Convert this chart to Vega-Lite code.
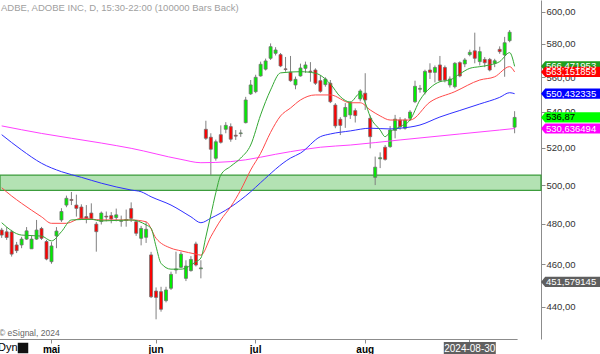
{
  "$schema": "https://vega.github.io/schema/vega-lite/v6.json",
  "width": 541,
  "height": 339,
  "autosize": {"type": "none"},
  "padding": {"left": 0, "top": 0, "right": 59, "bottom": 15},
  "background": "white",
  "config": {"view": {"stroke": null}, "font": "Liberation Sans"},
  "title": {"text": "ADBE, ADOBE INC, D, 15:30-22:00 (100000 Bars Back)", "anchor": "start", "frame": "group", "offset": -12, "fontSize": 9.5, "fontWeight": "normal", "color": "#a0a0a0", "font": "Liberation Sans", "dx": 1},
  "datasets": {
    "candles": [
      {"d":"2024-04-17","o":476.9,"h":478.0,"l":473.0,"c":474.4},
      {"d":"2024-04-18","o":476.0,"h":478.4,"l":472.0,"c":473.2},
      {"d":"2024-04-19","o":476.0,"h":477.0,"l":463.8,"c":465.0},
      {"d":"2024-04-22","o":469.5,"h":471.0,"l":465.5,"c":466.7},
      {"d":"2024-04-23","o":469.5,"h":473.5,"l":467.9,"c":472.4},
      {"d":"2024-04-24","o":472.4,"h":478.4,"l":472.0,"c":476.5},
      {"d":"2024-04-25","o":467.6,"h":474.4,"l":467.6,"c":472.4},
      {"d":"2024-04-26","o":472.4,"h":482.0,"l":472.0,"c":476.9},
      {"d":"2024-04-29","o":477.7,"h":478.5,"l":472.0,"c":472.8},
      {"d":"2024-04-30","o":471.2,"h":472.0,"l":462.0,"c":462.6},
      {"d":"2024-05-01","o":461.3,"h":470.9,"l":460.3,"c":469.0},
      {"d":"2024-05-02","o":474.0,"h":478.4,"l":467.9,"c":476.4},
      {"d":"2024-05-03","o":482.0,"h":488.0,"l":481.0,"c":486.3},
      {"d":"2024-05-06","o":489.6,"h":494.5,"l":488.5,"c":493.1},
      {"d":"2024-05-07","o":492.5,"h":496.4,"l":489.6,"c":492.0},
      {"d":"2024-05-08","o":489.6,"h":495.0,"l":483.7,"c":487.9},
      {"d":"2024-05-09","o":488.6,"h":490.0,"l":482.0,"c":482.7},
      {"d":"2024-05-10","o":483.7,"h":489.6,"l":480.3,"c":482.9},
      {"d":"2024-05-13","o":485.5,"h":490.5,"l":482.0,"c":482.7},
      {"d":"2024-05-14","o":479.9,"h":481.0,"l":466.2,"c":476.1},
      {"d":"2024-05-15","o":481.2,"h":486.3,"l":479.7,"c":485.5},
      {"d":"2024-05-16","o":483.9,"h":486.3,"l":481.3,"c":483.5},
      {"d":"2024-05-17","o":484.2,"h":486.0,"l":480.3,"c":482.5},
      {"d":"2024-05-20","o":483.2,"h":487.8,"l":481.3,"c":484.6},
      {"d":"2024-05-21","o":481.3,"h":484.2,"l":478.6,"c":481.6},
      {"d":"2024-05-22","o":482.2,"h":487.3,"l":478.6,"c":481.8},
      {"d":"2024-05-23","o":487.8,"h":491.0,"l":481.0,"c":482.8},
      {"d":"2024-05-24","o":481.1,"h":482.0,"l":474.0,"c":475.3},
      {"d":"2024-05-28","o":472.8,"h":479.0,"l":469.3,"c":477.7},
      {"d":"2024-05-29","o":473.3,"h":481.0,"l":470.5,"c":477.3},
      {"d":"2024-05-30","o":464.6,"h":466.1,"l":444.0,"c":444.6},
      {"d":"2024-05-31","o":447.3,"h":449.0,"l":434.2,"c":444.3},
      {"d":"2024-06-03","o":447.0,"h":449.3,"l":437.7,"c":438.8},
      {"d":"2024-06-04","o":442.8,"h":449.3,"l":442.0,"c":447.8},
      {"d":"2024-06-05","o":448.6,"h":456.5,"l":447.8,"c":455.2},
      {"d":"2024-06-06","o":457.3,"h":466.2,"l":455.5,"c":457.8},
      {"d":"2024-06-07","o":458.6,"h":466.2,"l":458.2,"c":465.0},
      {"d":"2024-06-10","o":453.3,"h":462.0,"l":452.0,"c":459.2},
      {"d":"2024-06-11","o":457.0,"h":464.0,"l":456.5,"c":462.4},
      {"d":"2024-06-12","o":470.0,"h":471.1,"l":459.0,"c":459.7},
      {"d":"2024-06-13","o":457.9,"h":462.0,"l":453.3,"c":458.3},
      {"d":"2024-06-14","o":530.2,"h":535.0,"l":524.3,"c":525.2},
      {"d":"2024-06-17","o":525.8,"h":528.0,"l":505.3,"c":519.2},
      {"d":"2024-06-18","o":514.3,"h":524.5,"l":513.0,"c":523.3},
      {"d":"2024-06-20","o":527.2,"h":532.4,"l":522.3,"c":523.0},
      {"d":"2024-06-21","o":530.2,"h":534.2,"l":528.0,"c":532.4},
      {"d":"2024-06-24","o":531.7,"h":533.5,"l":523.3,"c":524.7},
      {"d":"2024-06-25","o":526.9,"h":529.8,"l":524.3,"c":526.4},
      {"d":"2024-06-26","o":527.8,"h":530.0,"l":526.0,"c":528.2},
      {"d":"2024-06-27","o":533.9,"h":548.6,"l":533.5,"c":546.8},
      {"d":"2024-06-28","o":550.3,"h":558.4,"l":549.7,"c":555.5},
      {"d":"2024-07-01","o":551.6,"h":561.5,"l":550.7,"c":560.0},
      {"d":"2024-07-02","o":560.8,"h":569.3,"l":560.4,"c":567.7},
      {"d":"2024-07-03","o":564.8,"h":571.1,"l":564.0,"c":569.7},
      {"d":"2024-07-05","o":571.3,"h":580.3,"l":570.3,"c":578.3},
      {"d":"2024-07-08","o":574.3,"h":578.0,"l":573.0,"c":576.3},
      {"d":"2024-07-09","o":573.5,"h":574.5,"l":566.0,"c":566.7},
      {"d":"2024-07-10","o":565.0,"h":572.1,"l":563.3,"c":564.6},
      {"d":"2024-07-11","o":563.0,"h":572.7,"l":557.4,"c":558.0},
      {"d":"2024-07-12","o":555.5,"h":560.4,"l":553.0,"c":558.8},
      {"d":"2024-07-15","o":560.8,"h":568.1,"l":560.4,"c":565.5},
      {"d":"2024-07-16","o":565.3,"h":569.3,"l":562.6,"c":567.3},
      {"d":"2024-07-17","o":563.6,"h":569.0,"l":557.4,"c":563.2},
      {"d":"2024-07-18","o":564.3,"h":565.3,"l":555.5,"c":556.5},
      {"d":"2024-07-19","o":558.0,"h":561.0,"l":551.0,"c":551.8},
      {"d":"2024-07-22","o":555.7,"h":560.0,"l":554.5,"c":559.0},
      {"d":"2024-07-23","o":556.5,"h":558.4,"l":545.0,"c":545.8},
      {"d":"2024-07-24","o":543.9,"h":545.0,"l":530.8,"c":532.1},
      {"d":"2024-07-25","o":535.8,"h":537.0,"l":527.0,"c":532.4},
      {"d":"2024-07-26","o":537.3,"h":545.0,"l":531.0,"c":542.5},
      {"d":"2024-07-29","o":538.3,"h":546.0,"l":536.0,"c":545.2},
      {"d":"2024-07-30","o":540.7,"h":542.0,"l":534.0,"c":537.9},
      {"d":"2024-07-31","o":547.4,"h":553.0,"l":546.0,"c":552.0},
      {"d":"2024-08-01","o":550.7,"h":562.4,"l":541.1,"c":546.8},
      {"d":"2024-08-02","o":536.4,"h":538.0,"l":519.7,"c":526.1},
      {"d":"2024-08-05","o":504.1,"h":515.2,"l":500.0,"c":509.5},
      {"d":"2024-08-06","o":514.0,"h":517.5,"l":509.0,"c":514.6},
      {"d":"2024-08-07","o":520.3,"h":521.5,"l":513.0,"c":513.7},
      {"d":"2024-08-08","o":520.6,"h":532.0,"l":520.0,"c":529.8},
      {"d":"2024-08-09","o":529.6,"h":538.3,"l":525.2,"c":535.9},
      {"d":"2024-08-12","o":535.4,"h":537.0,"l":530.0,"c":531.6},
      {"d":"2024-08-13","o":530.8,"h":536.5,"l":530.0,"c":535.4},
      {"d":"2024-08-14","o":536.4,"h":541.0,"l":535.0,"c":539.9},
      {"d":"2024-08-15","o":545.8,"h":558.0,"l":545.0,"c":554.7},
      {"d":"2024-08-16","o":553.0,"h":555.5,"l":551.0,"c":553.5},
      {"d":"2024-08-19","o":551.4,"h":564.5,"l":550.0,"c":563.5},
      {"d":"2024-08-20","o":564.3,"h":568.3,"l":559.0,"c":562.9},
      {"d":"2024-08-21","o":562.9,"h":567.0,"l":557.0,"c":565.8},
      {"d":"2024-08-22","o":567.3,"h":572.7,"l":557.4,"c":558.1},
      {"d":"2024-08-23","o":565.8,"h":567.0,"l":557.0,"c":558.4},
      {"d":"2024-08-26","o":555.5,"h":560.5,"l":554.0,"c":559.0},
      {"d":"2024-08-27","o":554.5,"h":569.0,"l":553.5,"c":568.3},
      {"d":"2024-08-28","o":568.7,"h":569.5,"l":560.0,"c":560.8},
      {"d":"2024-08-29","o":567.9,"h":571.5,"l":566.0,"c":570.3},
      {"d":"2024-08-30","o":573.5,"h":576.5,"l":572.5,"c":574.9},
      {"d":"2024-09-03","o":575.8,"h":586.9,"l":568.3,"c":571.3},
      {"d":"2024-09-04","o":569.3,"h":578.3,"l":567.0,"c":575.3},
      {"d":"2024-09-05","o":570.6,"h":572.0,"l":566.0,"c":568.6},
      {"d":"2024-09-06","o":570.6,"h":571.5,"l":563.5,"c":564.3},
      {"d":"2024-09-09","o":568.3,"h":571.0,"l":566.0,"c":569.8},
      {"d":"2024-09-10","o":576.7,"h":578.5,"l":574.0,"c":575.3},
      {"d":"2024-09-11","o":573.3,"h":584.3,"l":560.3,"c":580.7},
      {"d":"2024-09-12","o":582.0,"h":588.5,"l":581.0,"c":587.2},
      {"d":"2024-09-13","o":531.4,"h":540.4,"l":528.0,"c":536.87}
    ],
    "ma": [
      {"d":"2024-04-17","s":"m","v":532.1},{"d":"2024-04-29","s":"m","v":527.9},{"d":"2024-05-15","s":"m","v":522.6},{"d":"2024-05-23","s":"m","v":519.7},{"d":"2024-06-07","s":"m","v":513.7},{"d":"2024-06-13","s":"m","v":511.9},{"d":"2024-06-24","s":"m","v":512.5},{"d":"2024-07-11","s":"m","v":517.9},{"d":"2024-07-19","s":"m","v":520.3},{"d":"2024-07-29","s":"m","v":521.5},{"d":"2024-08-12","s":"m","v":524.3},{"d":"2024-08-28","s":"m","v":527.6},{"d":"2024-09-10","s":"m","v":529.8},{"d":"2024-09-13","s":"m","v":530.64},
      {"d":"2024-04-17","s":"b","v":527.2},{"d":"2024-04-23","s":"b","v":518.8},{"d":"2024-04-29","s":"b","v":511.6},{"d":"2024-05-03","s":"b","v":507.1},{"d":"2024-05-09","s":"b","v":504.1},{"d":"2024-05-15","s":"b","v":501.0},{"d":"2024-05-23","s":"b","v":497.4},{"d":"2024-05-28","s":"b","v":496.5},{"d":"2024-05-30","s":"b","v":493.9},{"d":"2024-06-05","s":"b","v":489.6},{"d":"2024-06-11","s":"b","v":483.6},{"d":"2024-06-13","s":"b","v":480.6},{"d":"2024-06-17","s":"b","v":482.9},{"d":"2024-06-24","s":"b","v":488.6},{"d":"2024-06-26","s":"b","v":492.3},{"d":"2024-06-28","s":"b","v":496.5},{"d":"2024-07-02","s":"b","v":501.3},{"d":"2024-07-11","s":"b","v":514.4},{"d":"2024-07-15","s":"b","v":517.1},{"d":"2024-07-19","s":"b","v":526.1},{"d":"2024-07-23","s":"b","v":527.6},{"d":"2024-07-29","s":"b","v":529.3},{"d":"2024-08-02","s":"b","v":530.8},{"d":"2024-08-08","s":"b","v":530.4},{"d":"2024-08-12","s":"b","v":530.8},{"d":"2024-08-16","s":"b","v":532.6},{"d":"2024-08-22","s":"b","v":537.1},{"d":"2024-08-28","s":"b","v":540.8},{"d":"2024-09-04","s":"b","v":544.5},{"d":"2024-09-10","s":"b","v":548.3},{"d":"2024-09-12","s":"b","v":551.0},{"d":"2024-09-13","s":"b","v":550.43},
      {"d":"2024-04-17","s":"r","v":498.6},{"d":"2024-04-19","s":"r","v":494.3},{"d":"2024-04-23","s":"r","v":490.5},{"d":"2024-04-29","s":"r","v":483.6},{"d":"2024-05-01","s":"r","v":480.3},{"d":"2024-05-06","s":"r","v":480.3},{"d":"2024-05-09","s":"r","v":482.9},{"d":"2024-05-15","s":"r","v":482.0},{"d":"2024-05-23","s":"r","v":482.0},{"d":"2024-05-29","s":"r","v":481.1},{"d":"2024-05-31","s":"r","v":472.8},{"d":"2024-06-05","s":"r","v":467.9},{"d":"2024-06-07","s":"r","v":466.6},{"d":"2024-06-12","s":"r","v":465.0},{"d":"2024-06-13","s":"r","v":464.5},{"d":"2024-06-17","s":"r","v":473.6},{"d":"2024-06-20","s":"r","v":482.0},{"d":"2024-06-24","s":"r","v":488.8},{"d":"2024-06-26","s":"r","v":497.4},{"d":"2024-06-28","s":"r","v":508.0},{"d":"2024-07-02","s":"r","v":517.0},{"d":"2024-07-05","s":"r","v":528.5},{"d":"2024-07-09","s":"r","v":537.7},{"d":"2024-07-11","s":"r","v":542.2},{"d":"2024-07-15","s":"r","v":546.8},{"d":"2024-07-18","s":"r","v":549.7},{"d":"2024-07-23","s":"r","v":549.7},{"d":"2024-07-29","s":"r","v":545.2},{"d":"2024-07-31","s":"r","v":545.2},{"d":"2024-08-02","s":"r","v":541.1},{"d":"2024-08-06","s":"r","v":537.7},{"d":"2024-08-08","s":"r","v":535.4},{"d":"2024-08-14","s":"r","v":535.4},{"d":"2024-08-20","s":"r","v":545.6},{"d":"2024-08-27","s":"r","v":551.6},{"d":"2024-09-04","s":"r","v":558.4},{"d":"2024-09-09","s":"r","v":560.3},{"d":"2024-09-12","s":"r","v":566.3},{"d":"2024-09-13","s":"r","v":563.15},
      {"d":"2024-04-17","s":"g","v":480.6},{"d":"2024-04-23","s":"g","v":474.4},{"d":"2024-04-29","s":"g","v":473.9},{"d":"2024-05-01","s":"g","v":471.5},{"d":"2024-05-03","s":"g","v":476.1},{"d":"2024-05-07","s":"g","v":482.0},{"d":"2024-05-13","s":"g","v":482.3},{"d":"2024-05-15","s":"g","v":481.5},{"d":"2024-05-23","s":"g","v":482.0},{"d":"2024-05-29","s":"g","v":479.5},{"d":"2024-05-30","s":"g","v":477.8},{"d":"2024-05-31","s":"g","v":468.7},{"d":"2024-06-03","s":"g","v":460.5},{"d":"2024-06-05","s":"g","v":457.7},{"d":"2024-06-07","s":"g","v":457.7},{"d":"2024-06-12","s":"g","v":461.3},{"d":"2024-06-13","s":"g","v":463.1},{"d":"2024-06-14","s":"g","v":473.5},{"d":"2024-06-17","s":"g","v":484.5},{"d":"2024-06-18","s":"g","v":496.0},{"d":"2024-06-20","s":"g","v":505.3},{"d":"2024-06-24","s":"g","v":510.0},{"d":"2024-06-26","s":"g","v":514.4},{"d":"2024-06-28","s":"g","v":521.5},{"d":"2024-07-02","s":"g","v":538.3},{"d":"2024-07-05","s":"g","v":552.6},{"d":"2024-07-09","s":"g","v":562.6},{"d":"2024-07-15","s":"g","v":563.3},{"d":"2024-07-18","s":"g","v":562.4},{"d":"2024-07-23","s":"g","v":556.1},{"d":"2024-07-25","s":"g","v":548.7},{"d":"2024-07-29","s":"g","v":545.6},{"d":"2024-07-31","s":"g","v":550.7},{"d":"2024-08-01","s":"g","v":545.2},{"d":"2024-08-02","s":"g","v":537.3},{"d":"2024-08-06","s":"g","v":529.8},{"d":"2024-08-07","s":"g","v":526.1},{"d":"2024-08-08","s":"g","v":528.8},{"d":"2024-08-12","s":"g","v":531.7},{"d":"2024-08-14","s":"g","v":535.4},{"d":"2024-08-16","s":"g","v":546.8},{"d":"2024-08-20","s":"g","v":553.7},{"d":"2024-08-22","s":"g","v":557.4},{"d":"2024-08-26","s":"g","v":558.4},{"d":"2024-08-28","s":"g","v":562.0},{"d":"2024-08-30","s":"g","v":565.3},{"d":"2024-09-04","s":"g","v":566.3},{"d":"2024-09-06","s":"g","v":567.3},{"d":"2024-09-10","s":"g","v":569.3},{"d":"2024-09-12","s":"g","v":574.7},{"d":"2024-09-13","s":"g","v":566.47}
    ],
    "tags": [
      {"k":"g","v":566.471953,"lab":"566,471953"},
      {"k":"r","v":563.151859,"lab":"563,151859"},
      {"k":"b","v":550.432335,"lab":"550,432335"},
      {"k":"p","v":536.87,"lab":"536,87"},
      {"k":"m","v":530.636494,"lab":"530,636494"},
      {"k":"x","v":451.579145,"lab":"451,579145"}
    ]
  },
  "layer": [
    {
      "data": {"values": [{"lo": 497.2, "hi": 505.3}]},
      "mark": {"type": "rect", "fill": "#b3e2b3", "stroke": "#3c9c3c", "strokeWidth": 1.3},
      "encoding": {
        "x": {"value": 0},
        "x2": {"value": "width"},
        "y": {"field": "lo", "type": "quantitative",
              "scale": {"type": "log", "domain": [425.3, 607.4], "nice": false, "zero": false},
              "axis": {"orient": "right", "values": [440, 460, 480, 500, 520, 540, 560, 580, 600],
                       "labelExpr": "replace(format(datum.value, '.2f'), '.', ',')",
                       "title": null, "grid": false, "domainColor": "#8c8c8c", "tickColor": "#8c8c8c",
                       "tickSize": 4, "labelPadding": 1, "labelFontSize": 9.5, "labelColor": "#333333",
                       "labelFont": "Liberation Sans", "zindex": 0}},
        "y2": {"field": "hi"}
      }
    },
    {
      "data": {"name": "candles"},
      "mark": {"type": "rule", "color": "#808080", "strokeWidth": 1},
      "encoding": {
        "x": {"field": "d", "type": "ordinal",
              "scale": {"type": "band", "range": [-0.8, 517.1], "paddingInner": 0, "paddingOuter": 0},
              "axis": {"orient": "bottom", "values": ["2024-05-01", "2024-05-31", "2024-07-01", "2024-08-01", "2024-08-30"],
                       "labelExpr": "datum.value === '2024-05-01' ? 'mai' : datum.value === '2024-05-31' ? 'jun' : datum.value === '2024-07-01' ? 'jul' : datum.value === '2024-08-01' ? 'aug' : ''",
                       "title": null, "grid": false, "labelAngle": 0, "domainColor": "#8c8c8c", "tickColor": "#8c8c8c",
                       "tickSize": 4, "labelPadding": 1, "labelFontSize": 10, "labelFontWeight": "bold",
                       "labelColor": "#000000", "labelFont": "Liberation Sans", "labelOverlap": false, "zindex": 0}},
        "y": {"field": "l", "type": "quantitative"},
        "y2": {"field": "h"}
      }
    },
    {
      "data": {"name": "candles"},
      "mark": {"type": "bar", "size": 3, "stroke": "#707070", "strokeWidth": 0.8},
      "encoding": {
        "x": {"field": "d", "type": "ordinal"},
        "y": {"field": "o", "type": "quantitative"},
        "y2": {"field": "c"},
        "color": {"condition": {"test": "datum.c >= datum.o", "value": "#00ee00"}, "value": "#ff0000"}
      }
    },
    {
      "data": {"name": "ma"},
      "mark": {"type": "line", "strokeWidth": 1, "interpolate": "monotone"},
      "encoding": {
        "x": {"field": "d", "type": "ordinal"},
        "y": {"field": "v", "type": "quantitative"},
        "stroke": {"field": "s", "type": "nominal", "legend": null,
                   "scale": {"domain": ["m", "b", "r", "g"], "range": ["#ff40ff", "#3030ff", "#ff4a4a", "#33a833"]}}
      }
    },
    {
      "data": {"name": "tags"},
      "mark": {"type": "point", "filled": true, "opacity": 1, "size": 14400, "strokeWidth": 0,
               "shape": "M0,0 L0.07,-0.085 L1,-0.085 L1,0.085 L0.07,0.085 Z"},
      "encoding": {
        "x": {"value": "width"},
        "y": {"field": "v", "type": "quantitative"},
        "fill": {"field": "k", "type": "nominal", "legend": null,
                 "scale": {"domain": ["g", "r", "b", "p", "m", "x"], "range": ["#1f9f1f", "#ff0000", "#0000ff", "#00ff00", "#ff00ff", "#5f5f5f"]}}
      }
    },
    {
      "data": {"name": "tags"},
      "mark": {"type": "text", "align": "left", "baseline": "middle", "dx": 5, "fontSize": 9.5, "font": "Liberation Sans"},
      "encoding": {
        "x": {"value": "width"},
        "y": {"field": "v", "type": "quantitative"},
        "text": {"field": "lab"},
        "color": {"condition": {"test": "datum.k === 'p'", "value": "#000000"}, "value": "#ffffff"}
      }
    },
    {
      "data": {"values": [{"d": "2024-08-30", "t": "2024-08-30"}]},
      "mark": {"type": "point", "filled": true, "opacity": 1, "size": 2704, "strokeWidth": 0, "color": "#606060",
               "shape": "M-1,-0.27 L1,-0.27 L1,0.27 L-1,0.27 Z", "yOffset": 10},
      "encoding": {
        "x": {"field": "d", "type": "ordinal"},
        "y": {"value": "height"}
      }
    },
    {
      "data": {"values": [{"d": "2024-08-30", "t": "2024-08-30"}]},
      "mark": {"type": "text", "baseline": "middle", "align": "center", "fontSize": 10, "color": "#ffffff", "font": "Liberation Sans", "dy": 10},
      "encoding": {
        "x": {"field": "d", "type": "ordinal"},
        "y": {"value": "height"},
        "text": {"field": "t"}
      }
    },
    {
      "data": {"values": [{"t": "© eSignal, 2024"}]},
      "mark": {"type": "text", "align": "left", "baseline": "middle", "fontSize": 8.5, "color": "#666666", "font": "Liberation Sans", "dy": -6.5},
      "encoding": {
        "x": {"value": -1},
        "y": {"value": "height"},
        "text": {"field": "t"}
      }
    },
    {
      "data": {"values": [{"t": "Dyn"}]},
      "mark": {"type": "text", "align": "left", "baseline": "middle", "fontSize": 11, "color": "#000000", "font": "Liberation Sans", "dy": 9},
      "encoding": {
        "x": {"value": -2},
        "y": {"value": "height"},
        "text": {"field": "t"}
      }
    },
    {
      "data": {"values": [{"t": "lock"}]},
      "mark": {"type": "point", "shape": "square", "filled": true, "opacity": 1, "size": 110, "color": "#111111", "yOffset": 9},
      "encoding": {
        "x": {"value": 23},
        "y": {"value": "height"}
      }
    }
  ]
}
